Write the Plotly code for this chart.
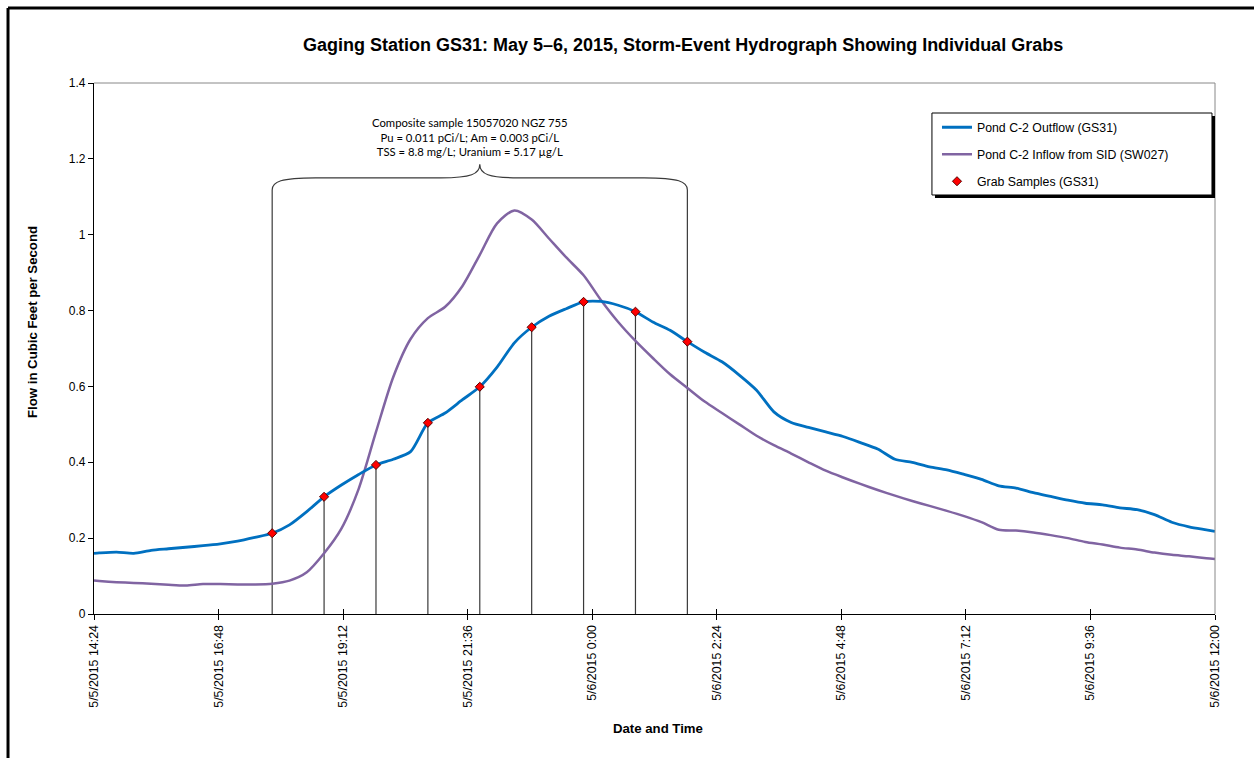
import plotly.graph_objects as go
import pandas as pd

# ---------------- data ----------------
times = [
    "2015-05-05 14:24", "2015-05-05 14:30", "2015-05-05 14:50", "2015-05-05 15:10", "2015-05-05 15:30",
    "2015-05-05 15:50", "2015-05-05 16:10", "2015-05-05 16:30", "2015-05-05 16:50", "2015-05-05 17:10",
    "2015-05-05 17:30", "2015-05-05 17:50", "2015-05-05 18:10", "2015-05-05 18:30", "2015-05-05 18:50",
    "2015-05-05 19:10", "2015-05-05 19:30", "2015-05-05 19:50", "2015-05-05 20:10", "2015-05-05 20:30",
    "2015-05-05 20:50", "2015-05-05 21:10", "2015-05-05 21:30", "2015-05-05 21:50", "2015-05-05 22:10",
    "2015-05-05 22:30", "2015-05-05 22:50", "2015-05-05 23:10", "2015-05-05 23:30", "2015-05-05 23:50",
    "2015-05-06 00:10", "2015-05-06 00:30", "2015-05-06 00:50", "2015-05-06 01:10", "2015-05-06 01:30",
    "2015-05-06 01:50", "2015-05-06 02:10", "2015-05-06 02:30", "2015-05-06 02:50", "2015-05-06 03:10",
    "2015-05-06 03:30", "2015-05-06 03:50", "2015-05-06 04:10", "2015-05-06 04:30", "2015-05-06 04:50",
    "2015-05-06 05:10", "2015-05-06 05:30", "2015-05-06 05:50", "2015-05-06 06:10", "2015-05-06 06:30",
    "2015-05-06 06:50", "2015-05-06 07:10", "2015-05-06 07:30", "2015-05-06 07:50", "2015-05-06 08:10",
    "2015-05-06 08:30", "2015-05-06 08:50", "2015-05-06 09:10", "2015-05-06 09:30", "2015-05-06 09:50",
    "2015-05-06 10:10", "2015-05-06 10:30", "2015-05-06 10:50", "2015-05-06 11:10", "2015-05-06 11:30",
    "2015-05-06 11:50", "2015-05-06 12:00",
]

outflow_gs31 = [
    0.160, 0.161, 0.163, 0.160, 0.168, 0.172, 0.176, 0.180, 0.185, 0.192, 0.202, 0.213,
    0.235, 0.270, 0.309, 0.340, 0.368, 0.393, 0.408, 0.428, 0.504, 0.530, 0.565, 0.599,
    0.651, 0.715, 0.756, 0.785, 0.805, 0.823, 0.824, 0.814, 0.797, 0.770, 0.748, 0.718,
    0.690, 0.665, 0.630, 0.590, 0.533, 0.505, 0.492, 0.480, 0.468, 0.452, 0.435, 0.408,
    0.400, 0.388, 0.380, 0.368, 0.355, 0.338, 0.332, 0.320, 0.310, 0.300, 0.292, 0.288,
    0.280, 0.275, 0.262, 0.242, 0.230, 0.222, 0.218,
]

inflow_sw027 = [
    0.088, 0.087, 0.084, 0.082, 0.080, 0.077, 0.075, 0.079, 0.079, 0.078, 0.078, 0.080,
    0.088, 0.110, 0.160, 0.225, 0.330, 0.480, 0.625, 0.725, 0.780, 0.810, 0.865, 0.947,
    1.030, 1.064, 1.040, 0.990, 0.940, 0.893, 0.828, 0.770, 0.720, 0.675, 0.632, 0.596,
    0.560, 0.530, 0.500, 0.470, 0.445, 0.423, 0.400, 0.378, 0.360, 0.343, 0.327, 0.312,
    0.298, 0.285, 0.272, 0.258, 0.242, 0.222, 0.220, 0.215, 0.208, 0.200, 0.190, 0.183,
    0.175, 0.170, 0.162, 0.156, 0.152, 0.147, 0.145,
]

grab_times = [
    "2015-05-05 17:50", "2015-05-05 18:50", "2015-05-05 19:50", "2015-05-05 20:50", "2015-05-05 21:50",
    "2015-05-05 22:50", "2015-05-05 23:50", "2015-05-06 00:50", "2015-05-06 01:50",
]
grab_flow = [0.213, 0.309, 0.393, 0.504, 0.599, 0.756, 0.823, 0.797, 0.718]

composite_top = 1.118  # height of the bracket end lines

tick_vals = [
    "2015-05-05 14:24", "2015-05-05 16:48", "2015-05-05 19:12", "2015-05-05 21:36", "2015-05-06 00:00",
    "2015-05-06 02:24", "2015-05-06 04:48", "2015-05-06 07:12", "2015-05-06 09:36", "2015-05-06 12:00",
]
tick_text = [
    "5/5/2015 14:24", "5/5/2015 16:48", "5/5/2015 19:12", "5/5/2015 21:36", "5/6/2015 0:00",
    "5/6/2015 2:24", "5/6/2015 4:48", "5/6/2015 7:12", "5/6/2015 9:36", "5/6/2015 12:00",
]

composite_text = ("Composite sample 15057020 NGZ 755<br>"
                  "Pu = 0.011 pCi/L; Am = 0.003 pCi/L<br>"
                  "TSS = 8.8 mg/L; Uranium = 5.17 µg/L")

# ---------------- figure ----------------
FONT = "Liberation Sans, Arial, sans-serif"
BLUE = "#0070C0"
PURPLE = "#8064A2"

fig = go.Figure()

# vertical drop lines from grabs to the axis
vx, vy = [], []
for i, (t, v) in enumerate(zip(grab_times, grab_flow)):
    top = composite_top if i in (0, len(grab_times) - 1) else v
    vx += [t, t, None]
    vy += [0, top, None]
fig.add_trace(go.Scatter(x=vx, y=vy, mode="lines", line=dict(color="#3a3a3a", width=1.2),
                         showlegend=False, hoverinfo="skip"))

fig.add_trace(go.Scatter(x=times, y=inflow_sw027, mode="lines", name="Pond C-2 Inflow from SID (SW027)",
                         line=dict(color=PURPLE, width=2.5, shape="spline", smoothing=0.8),
                         legendrank=2, legendgroup="b"))
fig.add_trace(go.Scatter(x=times, y=outflow_gs31, mode="lines", name="Pond C-2 Outflow (GS31)",
                         line=dict(color=BLUE, width=2.8, shape="spline", smoothing=0.7),
                         legendrank=1, legendgroup="a"))
fig.add_trace(go.Scatter(x=grab_times, y=grab_flow, mode="markers", name="Grab Samples (GS31)",
                         marker=dict(symbol="diamond", size=7, color="#FF0000",
                                     line=dict(color="#5a0000", width=1)),
                         legendrank=3, legendgroup="c"))
# empty trace for crossing ticks on the x axis
fig.add_trace(go.Scatter(x=[], y=[], xaxis="x2", yaxis="y", showlegend=False))

# brace over the composite period
g0 = pd.Timestamp(grab_times[0])
g1 = pd.Timestamp(grab_times[-1])
gm = g0 + (g1 - g0) / 2
def P(t):
    return t.strftime("%Y-%m-%d_%H:%M:%S")
m = pd.Timedelta(minutes=1)
yb, yh, yt = composite_top, 1.150, 1.186
path = (f"M{P(g0)},{yb} C{P(g0)},{yb+0.022} {P(g0+10*m)},{yh} {P(g0+50*m)},{yh} "
        f"L{P(gm-45*m)},{yh} C{P(gm-10*m)},{yh} {P(gm)},{yh+0.01} {P(gm)},{yt} "
        f"C{P(gm)},{yh+0.01} {P(gm+10*m)},{yh} {P(gm+45*m)},{yh} "
        f"L{P(g1-50*m)},{yh} C{P(g1-10*m)},{yh} {P(g1)},{yb+0.022} {P(g1)},{yb}")

shapes = [
    dict(type="path", xref="x", yref="y", path=path, line=dict(color="#3a3a3a", width=1.2)),
    # top / right plot frame (gray)
    dict(type="line", xref="paper", yref="paper", x0=0, x1=1, y0=1, y1=1, line=dict(color="#888888", width=1)),
    dict(type="line", xref="paper", yref="paper", x0=1, x1=1, y0=0, y1=1, line=dict(color="#888888", width=1)),
    # legend box with shadow
    dict(type="rect", xref="paper", yref="paper", x0=0.7475 + 0.0027, x1=0.9973 + 0.0027,
         y0=0.7891 - 0.0057, y1=0.9435 - 0.0057, fillcolor="black", line=dict(width=0)),
    dict(type="rect", xref="paper", yref="paper", x0=0.7475, x1=0.9973, y0=0.7891, y1=0.9435,
         fillcolor="white", line=dict(color="black", width=1)),
    # outer frame (top and left edge)
    dict(type="line", xref="paper", yref="paper", x0=-0.0767, x1=1.05, y0=1.1412, y1=1.1412,
         line=dict(color="black", width=3)),
    dict(type="line", xref="paper", yref="paper", x0=-0.0767, x1=-0.0767, y0=1.1412, y1=-0.3,
         line=dict(color="black", width=3)),
]

annotations = [
    dict(text="<b>Gaging Station GS31: May 5–6, 2015, Storm-Event Hydrograph Showing Individual Grabs</b>",
         xref="paper", yref="paper", x=0.5254, y=1.0716, showarrow=False,
         font=dict(family=FONT, size=18, color="black"), xanchor="center", yanchor="middle"),
    dict(text="<b>Flow in Cubic Feet per Second</b>", xref="paper", yref="paper", x=-0.0544, y=0.55,
         textangle=-90, showarrow=False, font=dict(family=FONT, size=13.2, color="black"),
         xanchor="center", yanchor="middle"),
    dict(text="<b>Date and Time</b>", xref="paper", yref="paper", x=0.503, y=-0.2147, showarrow=False,
         font=dict(family=FONT, size=13.2, color="black"), xanchor="center", yanchor="middle"),
    dict(text=composite_text, xref="x", yref="y", x="2015-05-05 21:39", y=1.258, showarrow=False,
         font=dict(family="Lato, Open Sans, sans-serif", size=11.3, color="black"),
         xanchor="center", yanchor="middle", align="center"),
]

fig.update_layout(
    width=1254, height=758,
    margin=dict(l=94, r=39, t=83, b=144),
    paper_bgcolor="white", plot_bgcolor="white",
    font=dict(family=FONT, size=11, color="black"),
    showlegend=True,
    legend=dict(x=0.752, y=0.944, xanchor="left", yanchor="top", bgcolor="rgba(0,0,0,0)",
                borderwidth=0, font=dict(family=FONT, size=12.3, color="black"),
                tracegroupgap=8, traceorder="grouped"),
    xaxis=dict(type="date", range=[tick_vals[0], tick_vals[-1]], tickmode="array",
               tickvals=tick_vals, ticktext=tick_text, tickangle=-90,
               showline=True, linecolor="black", linewidth=1.2, ticks="outside", ticklen=5,
               tickcolor="black", showgrid=False, zeroline=False,
               tickfont=dict(family=FONT, size=12.4, color="black")),
    xaxis2=dict(type="date", overlaying="x", matches="x", anchor="y", tickmode="array",
                tickvals=tick_vals, showticklabels=False, ticks="inside", ticklen=5,
                tickcolor="black", showline=False, showgrid=False, zeroline=False),
    yaxis=dict(range=[0, 1.4], dtick=0.2, tick0=0, showline=True, linecolor="black", linewidth=1.2,
               ticks="outside", ticklen=5, tickcolor="black", showgrid=False, zeroline=False,
               tickfont=dict(family=FONT, size=12, color="black")),
    shapes=shapes,
    annotations=annotations,
)

fig.write_html("out.html")
